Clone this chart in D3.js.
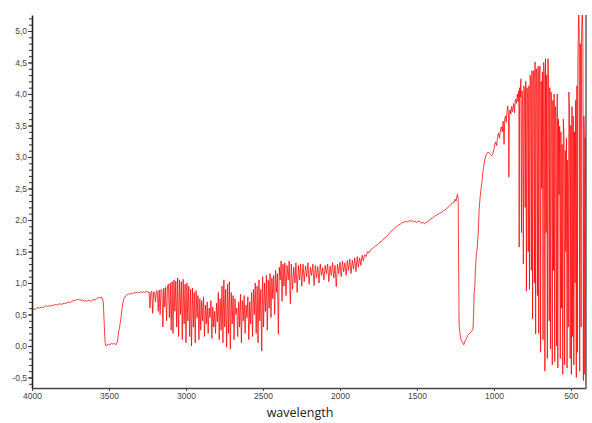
<!DOCTYPE html>
<html>
<head>
<meta charset="utf-8">
<script src="https://cdn.jsdelivr.net/npm/d3@7"></script>
<style>
  body { margin: 0; background: #fff; }
  svg { display: block; }
</style>
</head>
<body>
<div id="chart"></div>
<script>
// Spectrum readings, [wavenumber, value]
const baseline = [
  [4000,0.58],[3990,0.59],[3980,0.58],[3970,0.60],[3960,0.61],[3950,0.60],[3940,0.62],[3930,0.61],
  [3920,0.62],[3910,0.64],[3900,0.63],[3890,0.64],[3880,0.63],[3870,0.65],[3860,0.64],[3850,0.66],
  [3840,0.65],[3830,0.66],[3820,0.67],[3810,0.66],[3800,0.67],[3790,0.68],[3780,0.67],[3770,0.69],
  [3760,0.70],[3750,0.69],[3740,0.71],[3730,0.72],[3720,0.72],[3710,0.74],[3700,0.73],[3690,0.74],
  [3680,0.72],[3670,0.73],[3660,0.71],[3650,0.72],[3640,0.71],[3630,0.73],[3620,0.71],[3610,0.72],
  [3600,0.74],[3590,0.73],[3580,0.75],[3570,0.77],[3560,0.76],[3552,0.78],[3545,0.76],[3537,0.70]
];

const ohBand = [
  [3530,0.30],[3525,0.05],[3520,0.00],[3515,0.01],[3505,0.03],[3495,0.02],[3485,0.04],[3475,0.03],
  [3465,0.04],[3455,0.02],[3448,0.05],[3442,0.12],[3438,0.22],[3432,0.28],[3428,0.35],[3422,0.45],
  [3416,0.58],[3410,0.68],[3403,0.75],[3395,0.79],[3385,0.81],[3375,0.83],[3365,0.82],[3355,0.84],
  [3345,0.83],[3335,0.85],[3325,0.84],[3315,0.85],[3305,0.84],[3295,0.86],[3285,0.85],[3275,0.86],
  [3265,0.85],[3255,0.87],[3245,0.85],[3240,0.86]
];

const chRegion = [
  [3234,0.60],[3228,0.85],[3222,0.87],[3216,0.52],[3210,0.86],[3204,0.84],[3198,0.70],[3192,0.88],
  [3186,0.86],[3180,0.55],[3174,0.89],[3168,0.50],[3162,0.90],[3156,0.88],[3150,0.30],[3144,0.92],
  [3138,0.62],[3132,0.93],[3126,0.40],[3120,0.95],[3114,0.98],[3108,0.45],[3102,1.00],[3096,0.25],
  [3090,1.02],[3084,0.20],[3078,1.05],[3072,0.55],[3066,1.03],[3060,0.30],[3054,1.08],[3048,0.15],
  [3042,1.05],[3036,0.50],[3030,1.02],[3024,0.10],[3018,1.06],[3012,0.35],[3006,0.98],[3000,0.05],
  [2994,1.00],[2988,0.40],[2982,0.95],[2976,0.15],[2970,0.90],[2964,0.00],[2958,0.92],[2952,0.30],
  [2946,0.85],[2940,0.05],[2934,0.88],[2928,0.45],[2922,0.80],[2916,0.10],[2910,0.75],[2904,0.25],
  [2898,0.72],[2892,0.40],[2886,0.78],[2880,0.15],[2874,0.65],[2868,0.35],[2862,0.70],[2856,0.20],
  [2850,0.60],[2844,0.45],[2838,0.72],[2832,0.12],[2826,0.62],[2820,0.30],[2814,0.55],[2808,0.20],
  [2802,0.68],[2796,0.38],[2790,0.85],[2784,0.10],[2778,0.75],[2772,0.25],[2766,0.95],[2760,0.05],
  [2754,1.05],[2748,0.30],[2742,0.90],[2736,-0.02],[2730,0.98],[2724,0.20],[2718,1.02],[2712,-0.05],
  [2706,0.85],[2700,0.35],[2694,0.80],[2688,0.10],[2682,0.75],[2676,0.50],[2670,0.60],[2664,0.15],
  [2658,0.70],[2652,0.30],[2646,0.82],[2640,0.05],[2634,0.72],[2628,0.40],[2622,0.80],[2616,0.20],
  [2610,0.65],[2604,0.45],[2598,0.78],[2592,0.10],[2586,0.70],[2580,0.35],[2574,0.85],[2568,0.15],
  [2562,0.90],[2556,0.50],[2550,1.00],[2544,0.20],[2538,0.95],[2532,0.05],[2526,1.05],[2520,0.40],
  [2514,0.90],[2508,-0.08],[2502,1.10],[2496,0.30],[2490,1.00],[2484,0.55],[2478,1.12],[2472,0.25],
  [2466,1.05],[2460,0.60],[2454,1.15],[2448,0.45],[2442,1.08],[2436,0.75],[2430,1.12],[2424,0.50],
  [2418,1.20],[2412,0.85],[2406,1.15],[2400,0.19]
];

const plateau = [
  [2394,1.25],[2388,1.05],[2382,1.35],[2376,0.71],[2370,1.30],[2364,0.95],[2358,1.32],[2350,0.80],
  [2344,1.28],[2336,1.05],[2330,1.35],[2322,0.67],[2316,1.30],[2308,0.90],[2300,1.25],[2292,1.00],
  [2286,1.32],[2278,0.85],[2270,1.28],[2262,1.05],[2256,1.30],[2248,0.95],[2240,1.30],[2232,1.02],
  [2224,1.27],[2216,1.10],[2208,1.32],[2200,0.98],[2192,1.25],[2184,1.12],[2176,1.30],[2168,0.96],
  [2160,1.28],[2152,1.08],[2144,1.26],[2136,1.00],[2128,1.30],[2120,1.12],[2112,1.24],[2104,1.05],
  [2096,1.28],[2088,1.15],[2080,1.30],[2072,1.02],[2064,1.27],[2056,1.12],[2048,1.32],[2040,1.08],
  [2032,1.28],[2024,0.94],[2016,1.30],[2008,1.15],[2000,1.33],[1992,1.10],[1984,1.35],[1976,1.18],
  [1968,1.32],[1960,1.12],[1952,1.36],[1944,1.20],[1936,1.38],[1928,1.15],[1920,1.36],[1912,1.22],
  [1904,1.40],[1896,1.18],[1888,1.42],[1880,1.25],[1872,1.40],[1864,1.28],[1856,1.44],[1848,1.35]
];

const rise = [
  [1840,1.45],[1830,1.42],[1820,1.50],[1810,1.48],[1800,1.53],[1790,1.55],[1780,1.56],[1770,1.59],
  [1760,1.60],[1750,1.62],[1740,1.65],[1730,1.66],[1720,1.69],[1710,1.71],[1700,1.73],[1690,1.76],
  [1680,1.79],[1670,1.81],[1660,1.84],[1650,1.86],[1640,1.88],[1630,1.90],[1620,1.92],[1610,1.93],
  [1600,1.95],[1590,1.96],[1580,1.97],[1570,1.98],[1560,1.97],[1550,1.99],[1540,1.98],[1530,1.99],
  [1520,1.97],[1510,1.98],[1500,1.96],[1490,1.98],[1480,1.97],[1470,1.95],[1460,1.96],[1450,1.94],
  [1440,1.96],[1430,1.97],[1420,2.00],[1410,2.02],[1400,2.03],[1390,2.05],[1380,2.07],[1370,2.08],
  [1360,2.10],[1350,2.11],[1340,2.12],[1330,2.14],[1320,2.16],[1310,2.17],[1300,2.20],[1290,2.22],
  [1280,2.24],[1270,2.27],[1260,2.28],[1252,2.33],[1246,2.30],[1240,2.38],[1236,2.41],[1232,2.35]
];

const gap = [
  [1229,1.20],[1226,0.32],[1220,0.20],[1215,0.11],[1208,0.08],[1202,0.05],[1196,0.02],[1190,0.06],
  [1184,0.10],[1178,0.12],[1172,0.16],[1166,0.18],[1158,0.20],[1150,0.22],[1142,0.24],[1136,0.26],
  [1132,0.51],[1128,0.86],[1124,0.95],[1120,1.22],[1114,1.45],[1108,1.57],[1102,1.80],[1096,2.17],
  [1090,2.35],[1084,2.49],[1078,2.60],[1072,2.76],[1066,2.85],[1060,2.95]
];

const fingerprint = [
  [1053,3.02],[1045,3.05],[1038,3.08],[1030,3.06],[1022,3.04],[1014,3.02],[1007,3.05],[1000,3.12],
  [994,3.20],[988,3.24],[982,3.18],[976,3.32],[970,3.38],[964,3.30],[958,3.42],[952,3.48],
  [946,3.40],[940,3.57],[934,3.20],[930,3.60],[925,3.65],[920,3.55],[915,3.72],[910,3.81],
  [905,3.60],[903,2.68],[900,3.70],[895,3.75],[890,3.68],[885,3.80],[880,3.72],[877,3.76],
  [872,3.85],[866,3.70],[862,3.90],[858,3.92],[853,3.85],[848,4.00],[843,3.88],[838,4.05],
  [836,1.57],[833,4.10],[829,3.95],[825,4.24],[821,1.80],[817,4.05],[813,3.90],[809,1.30],
  [805,4.13],[801,4.00],[797,2.20],[793,4.20],[789,0.87],[785,4.10],[781,3.95],[777,1.50],
  [773,4.13],[769,0.90],[765,4.30],[761,4.20],[757,1.20],[753,4.37],[749,0.43],[745,4.25],
  [741,4.37],[737,1.00],[733,4.51],[729,0.19],[725,4.40],[721,4.30],[717,0.80],[713,4.44],
  [709,0.20],[705,4.30],[701,4.44],[697,-0.10],[693,4.20],[689,2.50],[685,4.35],[681,0.10],
  [677,4.50],[673,4.30],[669,-0.40],[665,4.56],[661,1.80],[657,4.30],[653,-0.20],[649,4.56],
  [645,4.20],[641,0.40],[637,4.10],[633,-0.05],[629,4.03],[625,3.80],[621,-0.30],[617,3.90],
  [613,1.20],[609,4.00],[605,-0.25],[601,3.80],[597,3.60],[593,0.00],[589,4.00],[585,-0.35],
  [581,3.60],[577,2.40],[573,3.49],[569,-0.20],[565,3.40],[561,0.60],[557,3.20],[553,-0.45],
  [549,3.60],[545,3.30],[541,-0.30],[537,3.10],[533,1.50],[529,3.30],[525,-0.35],[521,2.95],
  [517,0.30],[513,4.03],[509,3.70],[505,-0.20],[501,3.50],[497,-0.45],[493,3.80],[489,0.15],
  [485,3.65],[481,-0.30],[477,3.40],[473,1.00],[469,3.90],[465,-0.50],[461,4.13],[458,-0.10],
  [455,4.50],[452,4.90],[449,5.27],[446,4.95],[443,-0.40],[440,4.80],[437,4.76],[434,0.30],
  [431,4.90],[428,5.20],[425,5.27],[422,4.80],[419,-0.55],[416,3.65],[413,3.40],[410,-0.45],
  [407,3.30],[404,3.00],[402,-0.60]
];

const xTicks = [4000, 3500, 3000, 2500, 2000, 1500, 1000, 500];
const yTicks = [-0.5, 0, 0.5, 1, 1.5, 2, 2.5, 3, 3.5, 4, 4.5, 5];
const xDomain = [4000, 402];
const yDomain = [-0.667, 5.254];
const xLabel = "wavelength";

const spectrum = [].concat(baseline, ohBand, chRegion, plateau, rise, gap, fingerprint);

const width = 592, height = 423;
const margin = { top: 15, right: 6, bottom: 35, left: 32 };

const svg = d3.select("#chart")
  .append("svg")
  .attr("width", width)
  .attr("height", height);

const x = d3.scaleLinear()
  .domain(xDomain)
  .range([margin.left, width - margin.right]);

const y = d3.scaleLinear()
  .domain(yDomain)
  .range([height - margin.bottom, margin.top]);

// clip so the spikes stay inside the plot box
svg.append("clipPath")
  .attr("id", "plot-clip")
  .append("rect")
  .attr("x", margin.left)
  .attr("y", margin.top)
  .attr("width", width - margin.left - margin.right)
  .attr("height", height - margin.bottom - margin.top);

const line = d3.line()
  .x(d => x(d[0]))
  .y(d => y(d[1]));

svg.append("path")
  .datum(spectrum)
  .attr("clip-path", "url(#plot-clip)")
  .attr("fill", "none")
  .attr("stroke", "#ff0000")
  .attr("stroke-width", 0.9)
  .attr("stroke-opacity", 0.85)
  .attr("stroke-linejoin", "round")
  .attr("d", line);

const fmt = v => d3.format(".1f")(v).replace(".", ",").replace("−", "-");

// y axis: minor ticks every 0.1, labels every 0.5
const yMinor = d3.range(-6, 53).map(i => i / 10);
svg.append("g")
  .attr("transform", "translate(" + margin.left + ",0)")
  .call(d3.axisLeft(y).tickValues(yMinor).tickSize(3).tickFormat(""))
  .call(g => g.select(".domain").remove())
  .call(g => g.selectAll("line").attr("stroke", "#333"));

const yAxis = svg.append("g")
  .attr("transform", "translate(" + margin.left + ",0)")
  .call(d3.axisLeft(y).tickValues(yTicks).tickSize(4).tickSizeOuter(0).tickFormat(fmt));
yAxis.select(".domain").attr("stroke", "#222").attr("stroke-width", 1.6);
yAxis.selectAll("line").attr("stroke", "#333");
yAxis.selectAll("text")
  .attr("x", -5)
  .attr("fill", "#444")
  .style("font-family", "'Liberation Sans', Arial, sans-serif")
  .style("font-size", "8.5px");

// x axis
const xAxis = svg.append("g")
  .attr("transform", "translate(0," + (height - margin.bottom) + ")")
  .call(d3.axisBottom(x).tickValues(xTicks).tickSize(3).tickSizeOuter(0).tickFormat(d3.format("d")));
xAxis.select(".domain").attr("stroke", "#444").attr("stroke-width", 1.6);
xAxis.selectAll("line").attr("stroke", "#444");
xAxis.selectAll("text")
  .attr("y", 5)
  .attr("fill", "#444")
  .style("font-family", "'Liberation Sans', Arial, sans-serif")
  .style("font-size", "8.5px");

// right frame line
svg.append("line")
  .attr("x1", x(xDomain[1]))
  .attr("x2", x(xDomain[1]))
  .attr("y1", y(yDomain[1]))
  .attr("y2", y(yDomain[0]))
  .attr("stroke", "#555")
  .attr("stroke-width", 1.4);

svg.append("text")
  .attr("x", 300)
  .attr("y", 417)
  .attr("text-anchor", "middle")
  .attr("fill", "#222")
  .style("font-family", "'Open Sans', sans-serif")
  .style("font-size", "12.5px")
  .text(xLabel);
</script>
</body>
</html>
